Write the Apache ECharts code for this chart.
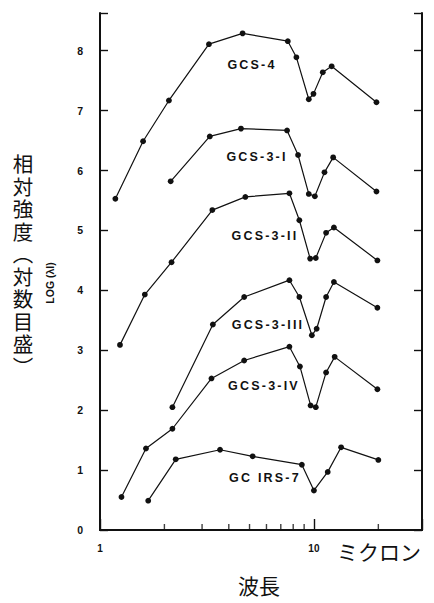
<!DOCTYPE html>
<html>
<head>
<meta charset="utf-8">
<script src="https://cdn.jsdelivr.net/npm/echarts@6/dist/echarts.min.js"></script>
<style>
  html, body { margin: 0; padding: 0; background: #fff; }
  #chart { width: 434px; height: 603px; }
</style>
</head>
<body>
<div id="chart"></div>
<script>
// Wavelengths (micron) and log intensities for each source
const wlGCS4 = [1.18, 1.59, 2.10, 3.23, 4.64, 7.55, 8.28, 9.46, 9.95, 11.0, 12.1, 19.6];
const valGCS4 = [5.53, 6.49, 7.17, 8.11, 8.29, 8.16, 7.89, 7.19, 7.28, 7.64, 7.74, 7.14];

const wlGCS3I = [2.14, 3.26, 4.56, 7.49, 8.43, 9.46, 10.1, 11.2, 12.3, 19.6];
const valGCS3I = [5.82, 6.57, 6.70, 6.67, 6.26, 5.61, 5.57, 5.97, 6.22, 5.65];

const wlGCS3II = [1.24, 1.62, 2.16, 3.35, 4.78, 7.68, 8.55, 9.6, 10.2, 11.4, 12.4, 19.8];
const valGCS3II = [3.09, 3.93, 4.47, 5.34, 5.56, 5.62, 5.17, 4.53, 4.54, 4.96, 5.05, 4.50];

const wlGCS3III = [2.18, 3.37, 4.72, 7.68, 8.55, 9.78, 10.3, 11.4, 12.4, 19.8];
const valGCS3III = [2.05, 3.43, 3.89, 4.17, 3.89, 3.25, 3.36, 3.89, 4.14, 3.71];

const wlGCS3IV = [1.26, 1.64, 2.18, 3.32, 4.72, 7.68, 8.6, 9.65, 10.2, 11.4, 12.5, 19.8];
const valGCS3IV = [0.55, 1.36, 1.69, 2.53, 2.83, 3.06, 2.73, 2.08, 2.05, 2.63, 2.89, 2.35];

const wlIRS7 = [1.68, 2.26, 3.64, 5.17, 8.78, 10.0, 11.6, 13.4, 20.0];
const valIRS7 = [0.49, 1.18, 1.34, 1.23, 1.09, 0.66, 0.97, 1.38, 1.17];

const seriesNames = ['GCS-4', 'GCS-3-I', 'GCS-3-II', 'GCS-3-III', 'GCS-3-IV', 'GC IRS-7'];
const minorTickValues = [2, 3, 4, 5, 6, 7, 8, 9, 20];
const yTickLabels = ['0', '1', '2', '3', '4', '5', '6', '7', '8'];
const yTitle = '相対強度（対数目盛）';

const INK = '#111';
const latin = '"Liberation Sans", Arial, sans-serif';
const cjk = '"Noto Sans CJK JP", "Noto Sans CJK SC", sans-serif';

const pairs = [
  [wlGCS4, valGCS4], [wlGCS3I, valGCS3I], [wlGCS3II, valGCS3II],
  [wlGCS3III, valGCS3III], [wlGCS3IV, valGCS3IV], [wlIRS7, valIRS7]
];

const lineSeries = pairs.map(function (p, i) {
  return {
    name: seriesNames[i],
    type: 'line',
    data: p[0].map(function (x, k) { return [x, p[1][k]]; }),
    symbol: 'circle',
    symbolSize: 5.8,
    showSymbol: true,
    lineStyle: { color: INK, width: 1.2 },
    itemStyle: { color: INK },
    silent: true,
    z: 3
  };
});

// small inward ticks between decades on the bottom axis
const minorTicks = {
  type: 'scatter',
  data: minorTickValues.map(function (v) { return [v, 0]; }),
  symbol: 'rect',
  symbolSize: [1.4, 6],
  symbolOffset: [0, -3],
  itemStyle: { color: INK },
  silent: true,
  z: 4
};

// name label positions inside the plot
const labelPos = [
  [252, 65], [257, 157], [265, 236], [268, 325], [264, 386], [265, 478]
];

const graphics = seriesNames.map(function (name, i) {
  return {
    type: 'text',
    x: labelPos[i][0],
    y: labelPos[i][1],
    style: {
      text: name,
      fill: INK,
      font: 'bold 12.5px ' + latin,
      textAlign: 'center', align: 'center',
      textVerticalAlign: 'middle', verticalAlign: 'middle'
    },
    silent: true
  };
});

// vertical axis title (set to vertical writing after rendering)
graphics.push({
  type: 'text',
  x: 0,
  y: 0,
  style: {
    text: yTitle,
    fill: INK,
    font: '20.5px ' + cjk,
    textAlign: 'left', align: 'left',
    textVerticalAlign: 'top', verticalAlign: 'top'
  },
  silent: true
});

graphics.push({
  type: 'text',
  x: 50,
  y: 283,
  rotation: Math.PI / 2,
  style: {
    text: 'LOG (λI)',
    fill: INK,
    font: 'bold 10.5px ' + latin,
    textAlign: 'center', align: 'center',
    textVerticalAlign: 'middle', verticalAlign: 'middle'
  },
  silent: true
});
graphics.push({
  type: 'text',
  x: 337,
  y: 551,
  style: {
    text: 'ミクロン',
    fill: INK,
    font: '21px ' + cjk,
    textAlign: 'left', align: 'left',
    textVerticalAlign: 'middle', verticalAlign: 'middle'
  },
  silent: true
});
graphics.push({
  type: 'text',
  x: 259,
  y: 585,
  style: {
    text: '波長',
    fill: INK,
    font: '21px ' + cjk,
    textAlign: 'center', align: 'center',
    textVerticalAlign: 'middle', verticalAlign: 'middle'
  },
  silent: true
});

const axisLine = { show: true, lineStyle: { color: INK, width: 2 } };

const option = {
  animation: false,
  backgroundColor: '#fff',
  grid: { left: 100, top: 13, width: 322, height: 517, containLabel: false },
  xAxis: [
    {
      type: 'log',
      logBase: 10,
      min: 1,
      max: 32,
      position: 'bottom',
      axisLine: axisLine,
      axisTick: { show: true, inside: true, length: 11, lineStyle: { color: INK, width: 1.4 } },
      axisLabel: {
        color: INK, fontWeight: 'bold', fontSize: 10, fontFamily: latin, margin: 13,
        formatter: function (v) { return (v === 1 || v === 10) ? String(v) : ''; }
      },
      splitLine: { show: false },
      minorTick: { show: false }
    },
    {
      type: 'log',
      logBase: 10,
      min: 1,
      max: 32,
      position: 'top',
      axisLine: axisLine,
      axisTick: { show: false },
      axisLabel: { show: false },
      splitLine: { show: false }
    }
  ],
  yAxis: [
    {
      type: 'value',
      min: 0,
      max: 8.63,
      interval: 1,
      position: 'left',
      axisLine: axisLine,
      axisTick: { show: true, inside: true, length: 8, lineStyle: { color: INK, width: 1.4 } },
      axisLabel: {
        color: INK, fontWeight: 'bold', fontSize: 10.5, fontFamily: latin, margin: 17,
        formatter: function (v) { return Number.isInteger(v) && v <= 8 ? yTickLabels[v] : ''; }
      },
      splitLine: { show: false }
    },
    {
      type: 'value',
      min: 0,
      max: 8.63,
      interval: 1,
      position: 'right',
      axisLine: axisLine,
      axisTick: { show: true, inside: true, length: 8, lineStyle: { color: INK, width: 1.4 } },
      axisLabel: { show: false },
      splitLine: { show: false }
    }
  ],
  series: lineSeries.concat([minorTicks]),
  graphic: graphics
};

const chart = echarts.init(document.getElementById('chart'), null, { renderer: 'svg' });
chart.setOption(option);

// typographic touches on the rendered SVG text:
// wider tracking for the source names, vertical writing for the y title
function finishText() {
  const nodes = document.querySelectorAll('#chart text');
  nodes.forEach(function (n) {
    if (seriesNames.indexOf(n.textContent) >= 0) {
      n.style.letterSpacing = '2.2px';
    } else if (n.textContent === yTitle) {
      n.removeAttribute('transform');
      n.setAttribute('x', '23');
      n.setAttribute('y', '154');
      n.setAttribute('text-anchor', 'start');
      n.setAttribute('dominant-baseline', 'central');
      n.style.writingMode = 'vertical-rl';
      n.style.textOrientation = 'upright';
      n.style.letterSpacing = '2px';
    }
  });
}
chart.on('finished', finishText);
finishText();
setTimeout(finishText, 50);
</script>
</body>
</html>
